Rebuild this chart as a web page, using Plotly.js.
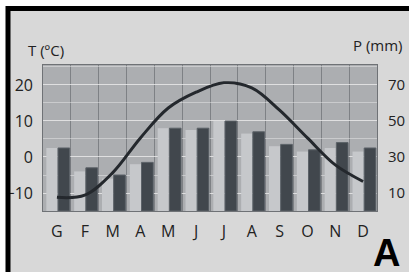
<!DOCTYPE html>
<html>
<head>
<meta charset="utf-8">
<script src="https://cdn.plot.ly/plotly-3.0.1.min.js"></script>
<style>
  html, body { margin: 0; padding: 0; background: #ffffff; }
  #chart { width: 409px; height: 278px; }
</style>
</head>
<body>
<div id="chart"></div>
<script>
// Months (Italian initials)
const months = ['G', 'F', 'M', 'A', 'M', 'J', 'J', 'A', 'S', 'O', 'N', 'D'];
// Mean temperature, °C
const temperature = [-11.2, -10.6, -4.4, 5.3, 13.6, 18.0, 20.6, 19.2, 13.0, 5.3, -2.2, -6.8];
// Precipitation, mm (dark bars)
const precipDark = [35, 24, 20, 27, 46, 46, 50, 44, 37, 34, 38, 35];
// Precipitation, mm (light companion bars)
const precipLight = [35, 22, 18, 26, 46, 45, 50, 43, 36, 33, 35, 33];
// Axis ticks
const tempTicks = [-10, 0, 10, 20];
const precipTicks = [10, 30, 50, 70];

const xIdx = months.map((_, i) => i);

// plot area in px: x 43..377, y 65..211
const L = 43, R = 377, T = 65, B = 211;
const px = v => (v - L) / (R - L);
const py = v => (B - v) / (B - T);

const traces = [
  {
    type: 'bar', x: xIdx, y: precipLight, yaxis: 'y',
    offset: -0.38, width: 0.40,
    marker: { color: '#c6c8cb', line: { width: 0 } },
    hoverinfo: 'skip', showlegend: false
  },
  {
    type: 'bar', x: xIdx, y: precipDark, yaxis: 'y',
    offset: 0.04, width: 0.42,
    marker: { color: '#41474d', line: { color: '#5c6268', width: 1 } },
    hoverinfo: 'skip', showlegend: false
  },
  {
    type: 'scatter', mode: 'lines', x: xIdx, y: temperature, yaxis: 'y2',
    line: { color: '#24282d', width: 3, shape: 'spline', smoothing: 1 },
    hoverinfo: 'skip', showlegend: false
  }
];

const tickFont = { family: 'Open Sans, sans-serif', size: 15, color: '#222222' };

const layout = {
  width: 409, height: 278,
  margin: { l: L, r: 409 - R, t: T, b: 278 - B, pad: 0 },
  paper_bgcolor: '#ffffff',
  plot_bgcolor: 'rgba(0,0,0,0)',
  barmode: 'overlay',
  showlegend: false,
  xaxis: {
    range: [-0.5, 11.5],
    tickmode: 'array', tickvals: xIdx, ticktext: months,
    showgrid: false, zeroline: false,
    ticks: '', ticklabelstandoff: 6,
    showline: true, mirror: true, linecolor: '#6f7276', linewidth: 1,
    tickfont: { family: 'Open Sans, sans-serif', size: 16, color: '#222222' },
    minor: { tick0: 0.5, dtick: 1, showgrid: true, gridcolor: '#7e8185', gridwidth: 1, ticks: '' },
    fixedrange: true
  },
  yaxis: {
    range: [0, 81.1],
    side: 'right',
    tickmode: 'array', tickvals: precipTicks,
    ticks: '', ticklabelstandoff: 7,
    showgrid: true, gridcolor: 'rgba(240,240,240,0.55)', gridwidth: 1,
    minor: { tick0: 0, dtick: 10, showgrid: true, gridcolor: 'rgba(240,240,240,0.45)', gridwidth: 1, ticks: '' },
    zeroline: false,
    showline: true, mirror: true, linecolor: '#6f7276', linewidth: 1,
    tickfont: tickFont,
    fixedrange: true
  },
  yaxis2: {
    range: [-15, 25.56],
    overlaying: 'y', side: 'left',
    tickmode: 'array', tickvals: tempTicks,
    ticks: '', ticklabelstandoff: 9,
    showgrid: false, zeroline: false,
    tickfont: { family: 'Open Sans, sans-serif', size: 16, color: '#222222' },
    fixedrange: true
  },
  shapes: [
    { type: 'rect', xref: 'paper', yref: 'paper', layer: 'below',
      x0: px(6), x1: px(420), y0: py(272), y1: py(6),
      fillcolor: '#d8d8d8', line: { width: 0 } },
    { type: 'rect', xref: 'paper', yref: 'paper', layer: 'below',
      x0: 0, x1: 1, y0: 0, y1: 1,
      fillcolor: '#acaeb1', line: { width: 0 } },
    { type: 'line', xref: 'paper', yref: 'paper', layer: 'above',
      x0: px(6), x1: px(420), y0: py(8.5), y1: py(8.5),
      line: { color: '#000000', width: 5 } },
    { type: 'line', xref: 'paper', yref: 'paper', layer: 'above',
      x0: px(8), x1: px(8), y0: py(6), y1: py(272),
      line: { color: '#000000', width: 5 } }
  ],
  annotations: [
    { xref: 'paper', yref: 'paper', x: px(46), y: py(50),
      xanchor: 'center', yanchor: 'middle', showarrow: false,
      text: 'T (ºC)', font: { family: 'Open Sans, sans-serif', size: 15, color: '#222222' } },
    { xref: 'paper', yref: 'paper', x: px(378), y: py(45),
      xanchor: 'center', yanchor: 'middle', showarrow: false,
      text: 'P (mm)', font: { family: 'Open Sans, sans-serif', size: 15, color: '#222222' } },
    { xref: 'paper', yref: 'paper', x: px(371), y: py(253),
      xanchor: 'left', yanchor: 'middle', showarrow: false,
      text: '<b>A</b>', font: { family: 'Liberation Sans, Arial, sans-serif', size: 38, color: '#000000' } }
  ]
};

Plotly.newPlot('chart', traces, layout, { displayModeBar: false, staticPlot: true });
</script>
</body>
</html>
